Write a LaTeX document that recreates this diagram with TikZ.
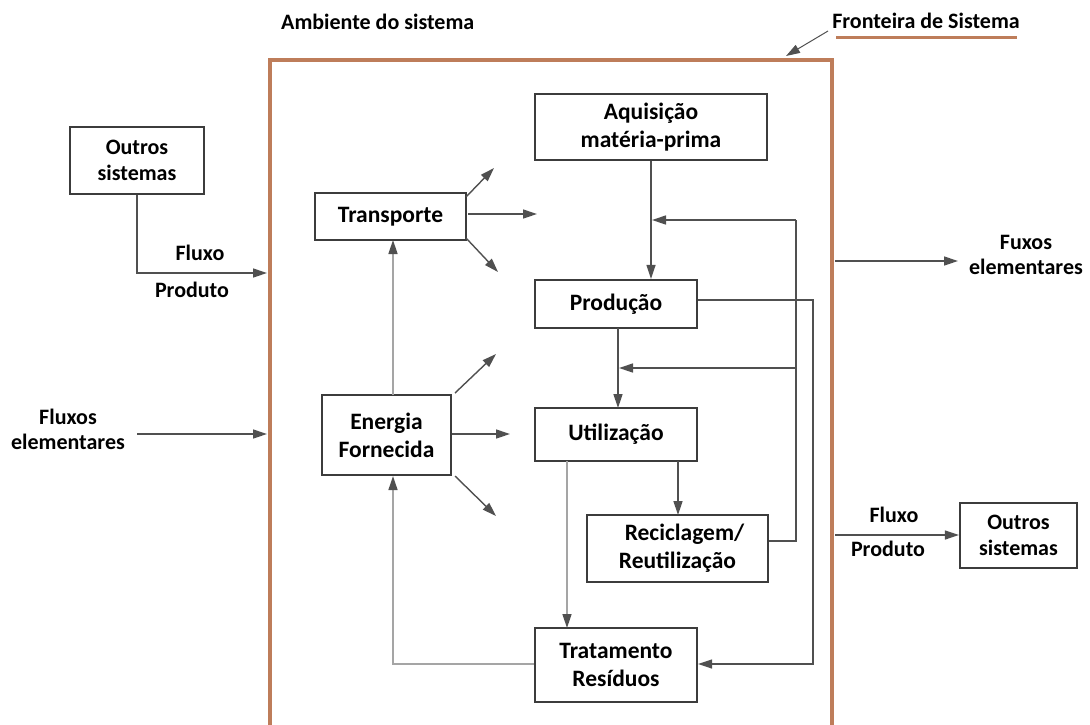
\documentclass[tikz,border=0pt]{standalone}
\usepackage{fontspec}
\setmainfont{Carlito}
\usetikzlibrary{arrows.meta}
\definecolor{brownline}{RGB}{190,125,90}
\definecolor{boxline}{RGB}{60,60,60}
\definecolor{darkline}{RGB}{80,80,80}
\definecolor{lightline}{RGB}{165,165,165}
\begin{document}
\begin{tikzpicture}[x=1pt,y=-1pt,
  font=\fontsize{22}{26}\selectfont\bfseries,
  box/.style={draw=boxline,line width=2.2pt,align=center,inner sep=0pt,font=\fontsize{23.5}{28}\selectfont\bfseries},
  obox/.style={draw=boxline,line width=2.2pt,align=center,inner sep=0pt,font=\fontsize{22}{26}\selectfont\bfseries},
  lbl/.style={align=center,inner sep=0pt},
  tip/.style={-{Triangle[length=14pt,width=9pt,color=darkline]}},
  flow/.style={draw=darkline,line width=1.4pt},
  gflow/.style={draw=lightline,line width=1.6pt},
]
\useasboundingbox (0,0) rectangle (1090,724);
% frame
\draw[brownline,line width=4.5pt] (270,740) -- (270,60) -- (832,60) -- (832,740);
\node[lbl,anchor=west] (amb) at (281,22) {Ambiente do sistema};
\node[lbl] (front) at (926,21) {Fronteira de Sistema};
\draw[brownline,line width=3pt] (836,37) -- (1017,37);
\coordinate (fa) at (828,31);
\coordinate (fb) at (786,56);
\draw[flow,line width=1pt,tip] (fa) -- (fb);

% left outside
\node[obox,minimum width=134pt,minimum height=67pt] (os1) at (137,160.5) {Outros\\sistemas};
\coordinate (inP) at (267,273);
\draw[flow,tip] (os1.south) |- (inP);
\node[lbl] (fl1) at (200,253) {Fluxo};
\node[lbl] (pr1) at (192,290) {Produto};
\node[lbl] (fe1) at (68,429) {Fluxos\\[-1pt]elementares};
\coordinate (fe1s) at (137,434);
\coordinate (fe1e) at (267,434);
\draw[flow,tip] (fe1s) -- (fe1e);

% right outside
\coordinate (fe2s) at (835,261);
\coordinate (fe2e) at (958,261);
\draw[flow,tip] (fe2s) -- (fe2e);
\node[lbl] (fe2) at (1026,255) {Fuxos\\[-1pt]elementares};
\node[obox,minimum width=117pt,minimum height=65pt] (os2) at (1018.5,535.5) {Outros\\sistemas};
\coordinate (op) at (835,535);
\draw[flow,tip] (op) -- (op -| os2.west);
\node[lbl] (fl2) at (894,515) {Fluxo};
\node[lbl] (pr2) at (888,549) {Produto};

% inside boxes
\node[box,minimum width=232pt,minimum height=66pt] (aq) at (651,127) {Aquisição\\matéria-prima};
\node[box,minimum width=151pt,minimum height=47pt] (tr) at (390.5,216.5) {Transporte};
\node[box,minimum width=162pt,minimum height=48pt] (pd) at (616,304) {Produção};
\node[box,minimum width=129pt,minimum height=80pt] (en) at (386.5,435) {Energia\\Fornecida};
\node[box,minimum width=162pt,minimum height=53pt] (ut) at (616,434.5) {Utilização};
\node[box,minimum width=181pt,minimum height=67pt] (rc) at (677.5,548.5) {\hspace*{14pt}Reciclagem/\\Reutilização};
\node[box,minimum width=162pt,minimum height=74pt] (tt) at (616,665) {Tratamento\\Resíduos};

% main chain
\draw[flow,tip] (aq.south) -- (aq.south |- pd.north);
\draw[flow,tip] (618,328) -- (618,408);
\draw[gflow,tip] (567,461) -- (567,628);
\draw[flow,tip] (678,461) -- (678,515);

% feedback from recycling
\coordinate (r1) at (796,541);
\coordinate (fbA) at (652,220);
\coordinate (fbB) at (619,368);
\draw[flow] (rc.east |- r1) -- (r1) -- (796,220);
\draw[flow,tip] (796,220) -- (fbA);
\draw[flow,tip] (796,368) -- (fbB);

% production to waste treatment
\draw[flow,tip] (pd.east |- 0,300) -| (813,664) -- (tt.east |- 0,664);

% waste treatment to energy
\draw[gflow,tip] (tt.west |- 0,664) -| (en.south -| 393,0);
\draw[gflow,tip] (393,395) -- (393,240);

% transport radiating arrows
\coordinate (t1) at (494,168);
\coordinate (t2) at (537,214);
\coordinate (t3) at (498,272);
\draw[flow,tip] (466,197) -- (t1);
\draw[flow,tip] (468,214) -- (t2);
\draw[flow,tip] (466,238) -- (t3);

% energy radiating arrows
\coordinate (e1) at (496,354);
\coordinate (e2) at (510,434);
\coordinate (e3) at (496,516);
\draw[flow,tip] (455,393) -- (e1);
\draw[flow,tip] (452,434) -- (e2);
\draw[flow,tip] (455,476) -- (e3);
\end{tikzpicture}
\end{document}
